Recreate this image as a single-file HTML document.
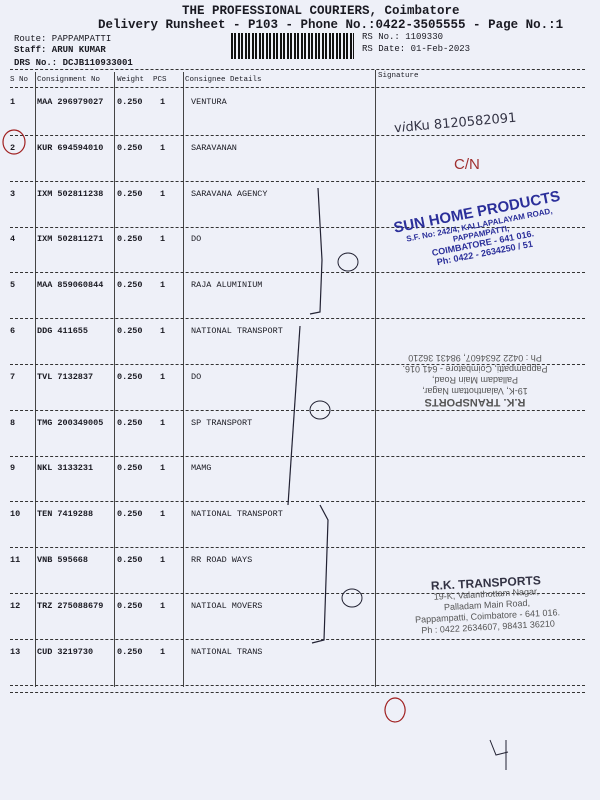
<!DOCTYPE html>
<html><head><meta charset="utf-8"><style>
body{margin:0;width:600px;height:800px;overflow:hidden;background:#eef0f8;position:relative;font-family:"Liberation Mono",monospace;color:#1a1a22}
.t{position:absolute;white-space:nowrap;font-size:8.5px;font-weight:bold}
.h{position:absolute;white-space:nowrap;font-weight:bold}
.sep{position:absolute;left:10px;width:560px;border-top:1px dashed #333}
.v{position:absolute;width:0;border-left:1px solid #444}
.st{position:absolute;white-space:nowrap;font-family:"Liberation Sans",sans-serif;font-weight:bold}
</style></head><body>
<div class="h" style="left:182px;top:4px;font-size:12.5px">THE PROFESSIONAL COURIERS, Coimbatore</div>
<div class="h" style="left:98px;top:18px;font-size:12.5px">Delivery Runsheet - P103 - Phone No.:0422-3505555 - Page No.:1</div>
<div class="t" style="left:14px;top:34px;font-size:9px;font-weight:normal">Route: PAPPAMPATTI</div>
<div class="t" style="left:14px;top:45px;font-size:9px">Staff: ARUN KUMAR</div>
<div class="t" style="left:14px;top:58px;font-size:9px">DRS No.: DCJB110933001</div>
<div style="position:absolute;left:231px;top:33px;width:123px;height:26px;background:repeating-linear-gradient(90deg,#111 0 2px,#eef0f8 2px 3px,#111 3px 4px,#111 4px 5px,#eef0f8 5px 7px)"></div>
<div class="t" style="left:362px;top:32px;font-size:9px;font-weight:normal">RS No.: 1109330</div>
<div class="t" style="left:362px;top:44px;font-size:9px;font-weight:normal">RS Date: 01-Feb-2023</div>
<div class="sep" style="top:69px;width:575px"></div>
<div class="sep" style="top:87px;width:575px"></div>
<div class="t" style="left:10px;top:76px;font-size:7.5px;font-weight:normal">S No</div>
<div class="t" style="left:37px;top:76px;font-size:7.5px;font-weight:normal">Consignment No</div>
<div class="t" style="left:117px;top:76px;font-size:7.5px;font-weight:normal">Weight</div>
<div class="t" style="left:153px;top:76px;font-size:7.5px;font-weight:normal">PCS</div>
<div class="t" style="left:185px;top:76px;font-size:7.5px;font-weight:normal">Consignee Details</div>
<div class="t" style="left:378px;top:72px;font-size:7.5px;font-weight:normal">Signature</div>
<div class="v" style="left:35px;top:72px;height:615px"></div>
<div class="v" style="left:114px;top:72px;height:615px"></div>
<div class="v" style="left:183px;top:72px;height:615px"></div>
<div class="v" style="left:375px;top:70px;height:617px"></div>
<div id="rows"></div>
<script>
var d=[["MAA 296979027","VENTURA"],["KUR 694594010","SARAVANAN"],["IXM 502811238","SARAVANA AGENCY"],["IXM 502811271","DO"],["MAA 859060844","RAJA ALUMINIUM"],["DDG 411655","NATIONAL TRANSPORT"],["TVL 7132837","DO"],["TMG 200349005","SP TRANSPORT"],["NKL 3133231","MAMG"],["TEN 7419288","NATIONAL TRANSPORT"],["VNB 595668","RR ROAD WAYS"],["TRZ 275088679","NATIOAL MOVERS"],["CUD 3219730","NATIONAL TRANS"]];
var h="";for(var i=0;i<13;i++){var y=97+i*45.8;
h+='<div class="t" style="left:10px;top:'+y+'px">'+(i+1)+'</div><div class="t" style="left:37px;top:'+y+'px">'+d[i][0]+'</div><div class="t" style="left:117px;top:'+y+'px">0.250</div><div class="t" style="left:160px;top:'+y+'px">1</div><div class="t" style="left:191px;top:'+y+'px;font-weight:normal">'+d[i][1]+'</div><div class="sep" style="top:'+(y+38)+'px;width:575px"></div>';}
document.getElementById("rows").innerHTML=h;
</script>
<div class="sep" style="top:692px;width:575px"></div>
<svg width="600" height="800" style="position:absolute;left:0;top:0" fill="none">
<ellipse cx="14" cy="142" rx="11" ry="12" stroke="#a02020" stroke-width="1.2"/>
<path d="M318 188 L322 260 L320 312 L310 314" stroke="#223" stroke-width="1.2"/>
<path d="M300 326 L288 505" stroke="#223" stroke-width="1.2"/>
<path d="M320 505 L328 520 L324 640 L312 643" stroke="#223" stroke-width="1.2"/>
<ellipse cx="348" cy="262" rx="10" ry="9" stroke="#223"/>
<ellipse cx="320" cy="410" rx="10" ry="9" stroke="#223"/>
<ellipse cx="352" cy="598" rx="10" ry="9" stroke="#223"/>
<path d="M395 722 a10 12 0 1 1 0.1 0" stroke="#a02020" stroke-width="1.2"/>
<path d="M490 740 L496 755 L508 752 M506 740 L506 770" stroke="#223"/>
</svg>
<div class="st" style="left:394px;top:116px;font-size:13px;font-family:'DejaVu Sans',sans-serif;font-weight:normal;color:#334;transform:rotate(-5deg)">v<i>i</i>dKu 8120582091</div>
<div class="st" style="left:454px;top:156px;font-size:15px;color:#a03030;font-weight:normal">C/N</div>
<div style="position:absolute;left:382px;top:222px;transform:rotate(-11deg);transform-origin:left top;color:#2b2f9a;text-align:center;width:190px">
<div class="st" style="position:relative;font-size:15px">SUN HOME PRODUCTS</div>
<div class="st" style="position:relative;font-size:8px">S.F. No: 242/4, KALLAPALAYAM ROAD,</div>
<div class="st" style="position:relative;font-size:8px">PAPPAMPATTI,</div>
<div class="st" style="position:relative;font-size:9px">COIMBATORE - 641 016.</div>
<div class="st" style="position:relative;font-size:9px">Ph: 0422 - 2634250 / 51</div></div>
<div style="position:absolute;left:380px;top:352px;width:190px;transform:rotate(180deg);color:#555;text-align:center;font-family:'Liberation Sans',sans-serif;font-size:9px;line-height:11px">
<div style="font-weight:bold;font-size:11px">R.K. TRANSPORTS</div><div>19-K, Valanthottam Nagar,</div><div>Palladam Main Road,</div><div>Pappampatti, Coimbatore - 641 016.</div><div>Ph : 0422 2634607, 98431 36210</div></div>
<div style="position:absolute;left:392px;top:578px;width:190px;color:#555;text-align:center;font-family:'Liberation Sans',sans-serif;font-size:9px;line-height:11px;transform:rotate(-3deg)">
<div style="font-weight:bold;font-size:12px;color:#334">R.K. TRANSPORTS</div><div>19-K, Valanthottam Nagar,</div><div>Palladam Main Road,</div><div>Pappampatti, Coimbatore - 641 016.</div><div>Ph : 0422 2634607, 98431 36210</div></div>
</body></html>
